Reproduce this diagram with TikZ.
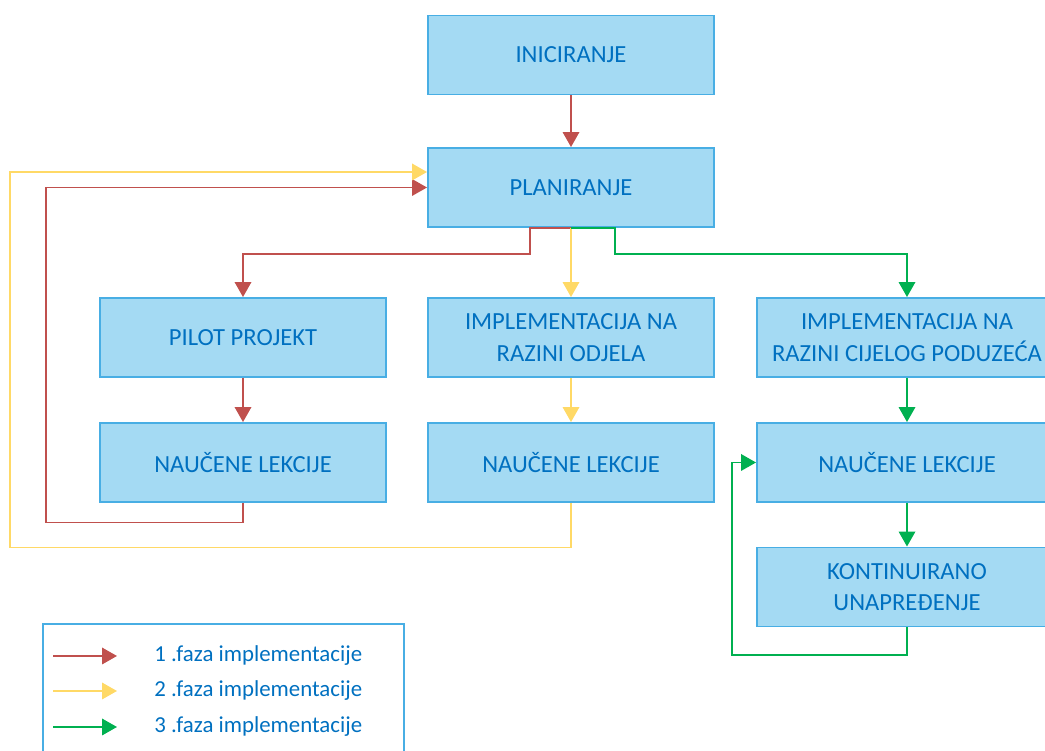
\documentclass[tikz,border=0pt]{standalone}
\usepackage{fontspec}
\setmainfont{Carlito}
\usepackage{tikz}
\usetikzlibrary{arrows.meta,positioning,calc}
\definecolor{boxfill}{RGB}{164,218,243}
\definecolor{boxline}{RGB}{72,174,228}
\definecolor{boxtext}{RGB}{0,112,192}
\definecolor{faza1}{RGB}{192,80,77}
\definecolor{faza2}{RGB}{255,217,102}
\definecolor{faza3}{RGB}{0,176,80}

\begin{document}
\begin{tikzpicture}[
    blok/.style={draw=boxline, fill=boxfill, line width=1.1pt, minimum width=5.72cm,
                 minimum height=1.58cm, align=center, text=boxtext, inner sep=0pt,
                 font=\fontsize{14}{18}\selectfont},
    siroki/.style={blok, minimum width=6cm},
    veza/.style={line width=1.1pt, -{Triangle[length=3mm,width=3.3mm]}},
    legtekst/.style={anchor=west, text=boxtext, inner sep=0pt, font=\fontsize{13}{16}\selectfont}
    ]
    \useasboundingbox (0,0) rectangle (20.9,15.02);

    % glavni tok
    \node[blok] (ini) at (11.42,13.92) {INICIRANJE};
    \node[blok] (plan) at (11.42,11.27) {PLANIRANJE};

    % tri faze
    \node[blok] (pilot) at (4.86,8.27) {PILOT PROJEKT};
    \node[blok] (odjel) at (11.42,8.27) {IMPLEMENTACIJA NA\\RAZINI ODJELA};
    \node[siroki] (cijelo) at (18.14,8.27) {IMPLEMENTACIJA NA\\RAZINI CIJELOG PODUZEĆA};
    \node[blok] (nl1) at (4.86,5.77) {NAUČENE LEKCIJE};
    \node[blok] (nl2) at (11.42,5.77) {NAUČENE LEKCIJE};
    \node[siroki] (nl3) at (18.14,5.77) {NAUČENE LEKCIJE};
    \node[siroki] (kont) at (18.14,3.28) {KONTINUIRANO\\UNAPREĐENJE};

    % veze
    \draw[veza,faza1] (ini) -- (plan);
    \draw[veza,faza1] (plan.south) -- ++(-0.82,0) -- ++(0,-0.52) -| (pilot.north);
    \draw[veza,faza2] (plan.south) -- (odjel.north);
    \draw[veza,faza3] (plan.south) -- ++(0.88,0) -- ++(0,-0.52) -| (cijelo.north);
    \draw[veza,faza1] (pilot) -- (nl1);
    \draw[veza,faza2] (odjel) -- (nl2);
    \draw[veza,faza3] (cijelo) -- (nl3);
    \draw[veza,faza3] (nl3) -- (kont);

    % povratne veze
    \coordinate (r1) at (0.92,4.57);
    \coordinate (r2) at (0.2,4.07);
    \coordinate (r3) at (14.64,1.92);
    \draw[veza,faza1] (nl1.south) |- (r1) |- (plan.west);
    \draw[veza,faza2] (nl2.south) |- (r2) |- ($(plan.west)+(0,0.31)$);
    \draw[veza,faza3] (kont.south) |- (r3) |- (nl3.west);

    % legenda
    \node[draw=boxline, line width=1.1pt, minimum width=7.23cm, minimum height=2.9cm,
          inner sep=0pt] (leg) at (4.47,1.09) {};
    \foreach \i/\boja/\y in {1/faza1/1.9, 2/faza2/1.2, 3/faza3/0.48} {
        \coordinate (l\i a) at (1.06,\y);
        \coordinate (l\i b) at (2.34,\y);
        \draw[veza,\boja] (l\i a) -- (l\i b);
        \node[legtekst] (t\i) at (3.08,\y) {\i\ .faza implementacije};
    }
\end{tikzpicture}
\end{document}
